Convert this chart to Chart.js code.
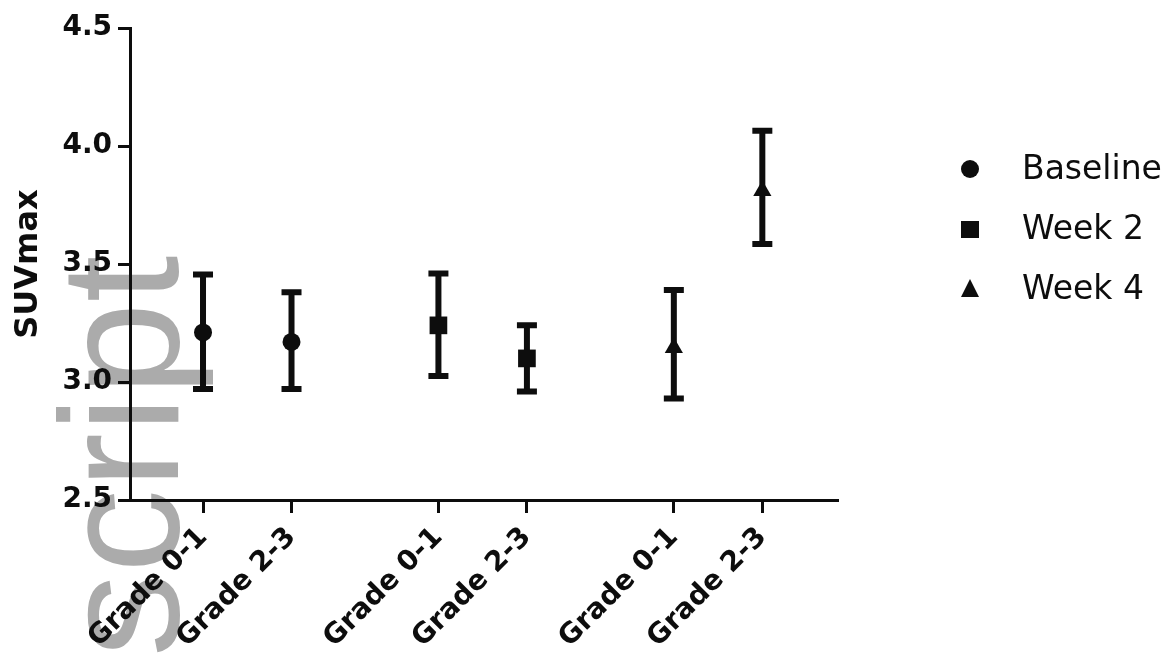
<!DOCTYPE html>
<html lang="en">
<head>
  <meta charset="UTF-8">
  <title>SUVmax by grade</title>
  <script src="https://cdn.jsdelivr.net/npm/chart.js"></script>
  <style>
    html, body { margin: 0; padding: 0; background: #fff; }
    .chart-container { position: relative; width: 1175px; height: 658px; }
  </style>
</head>
<body>
  <div class="chart-container">
    <canvas id="suvChart"></canvas>
  </div>

  <script>
    // Categories on the x axis (two grades per time point, gap between groups)
    const gradeLabels = ['Grade 0-1', 'Grade 2-3', 'Grade 0-1', 'Grade 2-3', 'Grade 0-1', 'Grade 2-3'];
    const gradePositions = [1, 2, 3.66, 4.66, 6.32, 7.32];
    const yTicks = [2.5, 3.0, 3.5, 4.0, 4.5];

    // Series: mean with lower / upper error bar ends
    const seriesNames = ['Baseline', 'Week 2', 'Week 4'];
    const baselineMean = [3.21, 3.17];
    const baselineLow = [2.97, 2.97];
    const baselineHigh = [3.455, 3.38];
    const week2Mean = [3.24, 3.10];
    const week2Low = [3.025, 2.96];
    const week2High = [3.46, 3.24];
    const week4Mean = [3.145, 3.81];
    const week4Low = [2.93, 3.585];
    const week4High = [3.39, 4.065];

    const ink = '#0d0d0d';
    const tickFont = { family: '"DejaVu Sans", sans-serif', size: 28, weight: 'bold' };

    function buildPoints(offset, mean, low, high) {
      return mean.map((m, i) => ({
        x: gradePositions[offset + i],
        y: m,
        yMin: low[i],
        yMax: high[i]
      }));
    }

    // Error bars with caps, drawn under the markers
    const errorBars = {
      id: 'errorBars',
      beforeDatasetsDraw(chart) {
        const { ctx, scales: { x, y } } = chart;
        ctx.save();
        ctx.strokeStyle = ink;
        ctx.lineWidth = 6;
        chart.data.datasets.forEach(ds => {
          ds.data.forEach(p => {
            const px = x.getPixelForValue(p.x);
            const top = y.getPixelForValue(p.yMax);
            const bot = y.getPixelForValue(p.yMin);
            ctx.beginPath();
            ctx.moveTo(px, top); ctx.lineTo(px, bot);
            ctx.moveTo(px - 10, top); ctx.lineTo(px + 10, top);
            ctx.moveTo(px - 10, bot); ctx.lineTo(px + 10, bot);
            ctx.stroke();
          });
        });
        ctx.restore();
      }
    };

    // Grey "script" mark sitting behind the plot
    const watermark = {
      id: 'watermark',
      beforeDraw(chart) {
        const ctx = chart.ctx;
        ctx.save();
        ctx.fillStyle = '#ababab';
        ctx.font = '168px "Liberation Sans", Arial, sans-serif';
        ctx.translate(178, 657);
        ctx.rotate(-Math.PI / 2);
        ctx.textBaseline = 'alphabetic';
        ctx.fillText('script', 0, 0);
        ctx.restore();
      }
    };

    // Legend on the right, drawn by hand for spacing
    const sideLegend = {
      id: 'sideLegend',
      afterDraw(chart) {
        const ctx = chart.ctx;
        ctx.save();
        ctx.fillStyle = ink;
        ctx.font = '33px "DejaVu Sans", sans-serif';
        ctx.textBaseline = 'middle';
        chart.data.datasets.forEach((ds, i) => {
          const cx = 970;
          const cy = 169 + i * 60;
          ctx.beginPath();
          if (ds.pointStyle === 'circle') {
            ctx.arc(cx, cy, 9, 0, Math.PI * 2);
          } else if (ds.pointStyle === 'rect') {
            ctx.rect(cx - 9, cy - 8, 18, 17);
          } else {
            ctx.moveTo(cx, cy - 10);
            ctx.lineTo(cx + 9, cy + 8);
            ctx.lineTo(cx - 9, cy + 8);
            ctx.closePath();
          }
          ctx.fill();
          ctx.fillText(ds.label, 1022, cy + 1);
        });
        ctx.restore();
      }
    };

    const ctx = document.getElementById('suvChart').getContext('2d');
    new Chart(ctx, {
      type: 'scatter',
      data: {
        datasets: [
          {
            label: seriesNames[0],
            data: buildPoints(0, baselineMean, baselineLow, baselineHigh),
            pointStyle: 'circle',
            pointRadius: 9
          },
          {
            label: seriesNames[1],
            data: buildPoints(2, week2Mean, week2Low, week2High),
            pointStyle: 'rect',
            pointRadius: 12.5
          },
          {
            label: seriesNames[2],
            data: buildPoints(4, week4Mean, week4Low, week4High),
            pointStyle: 'triangle',
            pointRadius: 10.5
          }
        ].map(ds => Object.assign(ds, {
          backgroundColor: ink,
          borderColor: ink,
          pointBorderWidth: 0,
          pointHoverRadius: ds.pointRadius
        }))
      },
      options: {
        responsive: true,
        maintainAspectRatio: false,
        animation: false,
        layout: { padding: { top: 28, right: 337, left: 0, bottom: 0 } },
        plugins: {
          legend: { display: false },
          tooltip: { enabled: false }
        },
        scales: {
          x: {
            type: 'linear',
            min: 0.175,
            max: 8.175,
            afterBuildTicks: scale => {
              scale.ticks = gradePositions.map(v => ({ value: v }));
            },
            afterFit: scale => { scale.height = 158; },
            ticks: {
              autoSkip: false,
              minRotation: 45,
              maxRotation: 45,
              padding: 8,
              color: ink,
              font: tickFont,
              callback: (value, index) => gradeLabels[index]
            },
            grid: {
              drawOnChartArea: false,
              tickLength: 13,
              tickWidth: 3,
              tickColor: ink
            },
            border: { color: ink, width: 3 }
          },
          y: {
            min: 2.5,
            max: 4.5,
            afterBuildTicks: scale => {
              scale.ticks = yTicks.map(v => ({ value: v }));
            },
            afterFit: scale => { scale.width = 130; },
            ticks: {
              padding: 6,
              color: ink,
              font: tickFont,
              callback: v => v.toFixed(1)
            },
            grid: {
              drawOnChartArea: false,
              tickLength: 12,
              tickWidth: 3,
              tickColor: ink
            },
            border: { color: ink, width: 3 },
            title: {
              display: true,
              text: 'SUVmax',
              color: ink,
              font: { family: '"DejaVu Sans", sans-serif', size: 32, weight: 'bold' },
              padding: { top: 9, bottom: 0 }
            }
          }
        }
      },
      plugins: [watermark, errorBars, sideLegend]
    });
  </script>
</body>
</html>
